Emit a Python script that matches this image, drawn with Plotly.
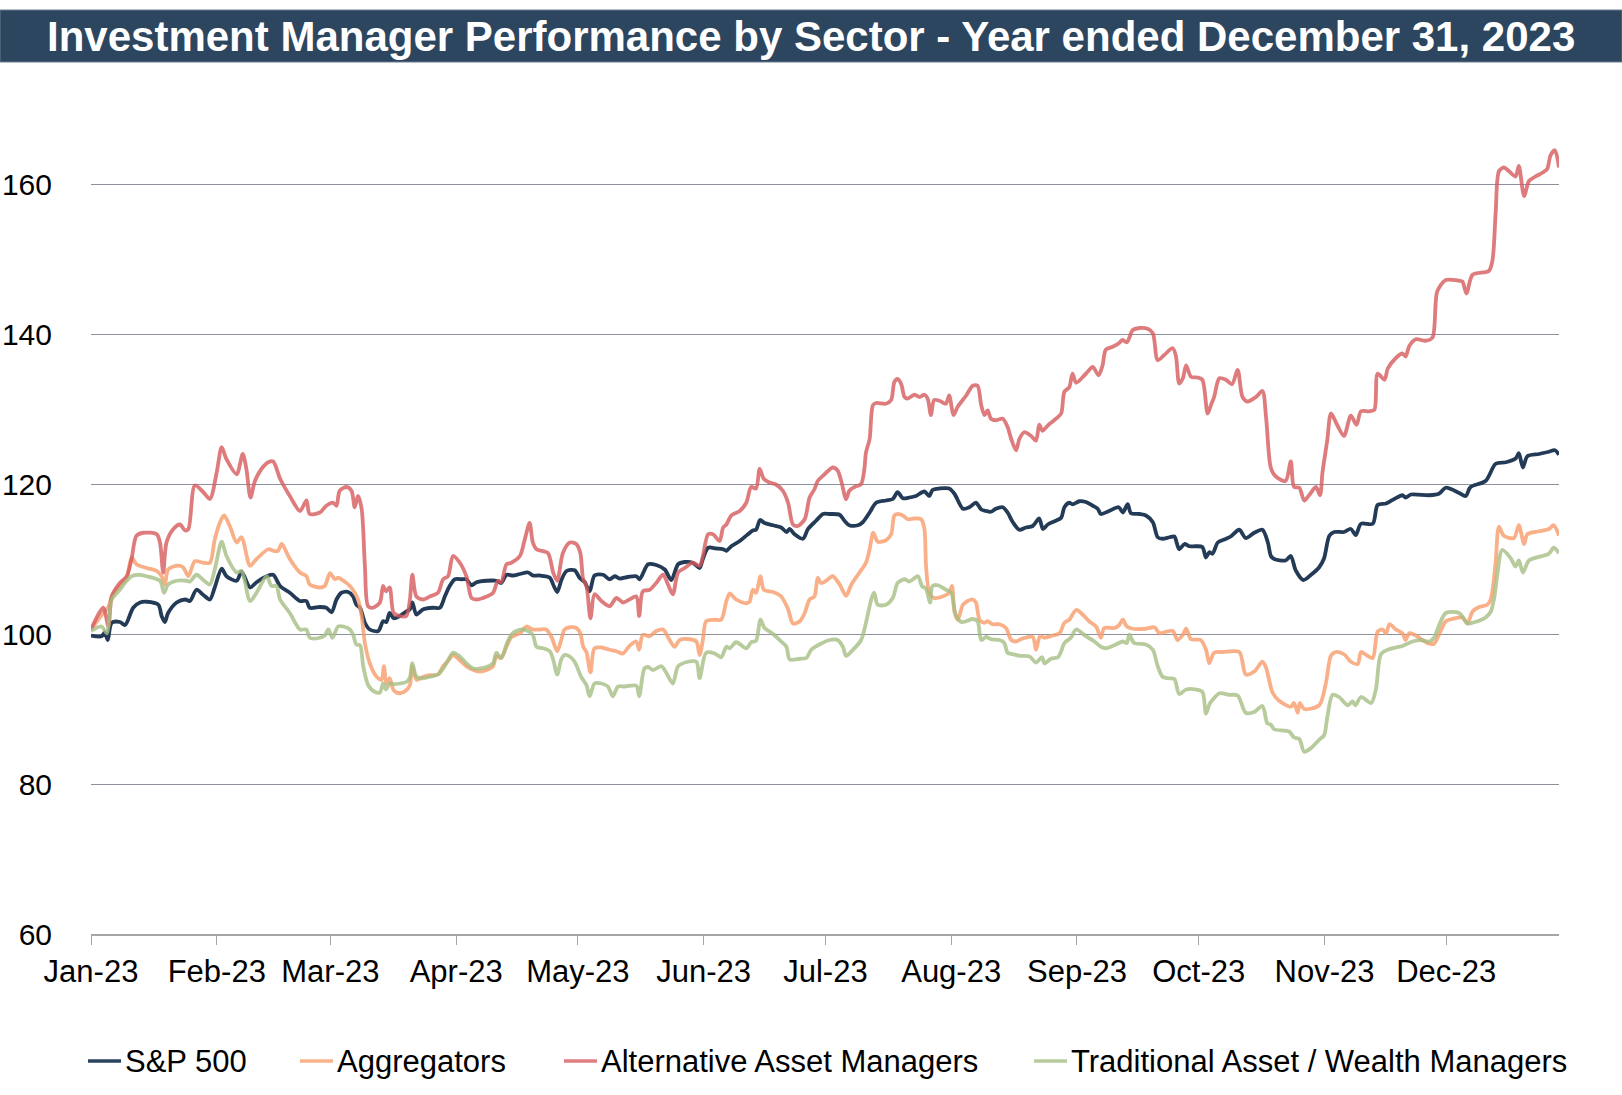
import pandas as pd
import plotly.graph_objects as go

# ---------------- data (days after 2023-01-01, index values) ----------------
sp_days = [0, 2.6, 3.4, 4.1, 5.1, 7.1, 8.4, 10.4, 12.1, 13.7, 16.6, 17.4, 18.2, 19.0, 21.1, 23.2, 24.4, 26.0, 27.7, 29.3,
           30.5, 32.2, 33.4, 35.9, 37.1, 39.2, 40.8, 43.3, 44.9, 46.6, 49.0, 51.5, 53.1, 53.9, 56.4, 58.0, 59.3, 60.5, 61.7, 63.4,
           64.6, 65.4, 66.3, 67.5, 68.7, 70.8, 72.0, 72.8, 73.6, 74.6, 76.1, 77.7, 78.6, 79.2, 80.2, 81.9, 84.3, 86.0, 87.2, 88.4,
           89.7, 91.3, 92.5, 93.8, 95.0, 97.5, 99.9, 101.1, 102.4, 104.0, 105.7, 107.7, 108.9, 110.6, 113.1, 113.9, 114.9, 116.0, 117.2, 119.2,
           120.4, 121.7, 122.9, 124.1, 126.2, 127.8, 129.1, 130.3, 132.3, 134.4, 135.2, 137.3, 139.3, 141.4, 143.0, 144.7, 146.3, 148.3, 150.0, 150.8,
           152.1, 154.1, 155.8, 156.6, 157.8, 159.9, 161.9, 163.1, 163.9, 164.9, 166.0, 168.1, 170.1, 171.4, 172.2, 173.4, 175.5, 176.7, 178.7, 180.4,
           182.0, 184.5, 185.7, 186.9, 189.0, 190.2, 191.9, 193.5, 195.9, 197.6, 198.8, 200.1, 201.7, 203.3, 205.4, 206.6, 207.4, 209.1, 211.5, 212.8,
           214.9, 216.5, 218.1, 219.4, 220.6, 221.8, 223.0, 224.7, 225.9, 227.2, 228.8, 230.4, 232.1, 233.7, 234.6, 235.8, 237.8, 239.1, 239.9, 241.1,
           241.9, 243.6, 245.2, 246.9, 248.1, 248.9, 250.9, 253.3, 254.3, 255.5, 256.3, 258.4, 260.0, 261.7, 262.9, 264.1, 265.8, 267.0, 268.2, 269.5,
           270.7, 272.3, 273.9, 274.8, 275.6, 276.4, 277.7, 279.3, 280.9, 283.0, 284.6, 286.7, 288.7, 290.0, 290.8, 291.6, 294.4, 295.7, 296.9, 298.8,
           300.7, 302.7, 303.9, 305.2, 306.4, 308.8, 310.5, 311.7, 313.0, 315.9, 317.1, 319.2, 321.2, 323.2, 324.0, 325.3, 329.8, 332.2, 333.9, 337.2,
           338.8, 340.0, 343.7, 346.2, 348.7, 351.1, 351.9, 352.9, 354.0, 356.9, 359.3, 360.8, 361.8]
sp_vals = [99.8, 99.7, 100.2, 99.2, 101.5, 101.6, 101.2, 103.5, 104.2, 104.3, 103.9, 102.4, 101.6, 102.8, 104.2, 104.6, 104.4, 105.9, 105.2, 104.6,
           106.2, 108.7, 107.7, 107.1, 108.3, 106.2, 106.9, 107.7, 107.9, 106.4, 105.5, 104.4, 104.4, 103.5, 103.6, 103.5, 102.9, 104.6, 105.5, 105.6,
           105.0, 103.9, 103.5, 101.5, 100.6, 100.4, 101.7, 101.6, 102.8, 102.1, 102.4, 103.0, 103.3, 104.2, 102.6, 103.3, 103.5, 103.5, 105.0, 106.4,
           107.3, 107.3, 107.3, 106.5, 106.9, 107.1, 107.1, 106.8, 107.9, 107.8, 108.0, 108.2, 107.8, 107.8, 107.5, 106.6, 105.6, 107.3, 108.4, 108.5,
           107.5, 106.9, 105.7, 107.8, 107.9, 107.3, 107.7, 107.4, 107.6, 107.7, 107.3, 109.3, 109.2, 108.6, 107.2, 109.3, 109.6, 109.5, 108.8, 110.0,
           111.5, 111.4, 111.3, 111.1, 111.7, 112.4, 113.3, 113.8, 113.9, 115.2, 114.8, 114.5, 114.2, 113.6, 114.0, 113.3, 112.7, 114.0, 115.1, 116.0,
           116.0, 115.9, 115.1, 114.5, 114.5, 114.9, 116.2, 117.5, 117.8, 118.0, 118.9, 118.1, 118.2, 118.4, 119.0, 118.4, 119.2, 119.4, 119.4, 118.7,
           116.7, 116.9, 117.5, 116.6, 116.4, 116.3, 116.7, 116.9, 116.2, 114.9, 113.9, 114.2, 114.4, 115.4, 114.0, 114.6, 115.1, 115.5, 116.9, 117.5,
           117.3, 117.7, 117.6, 117.1, 116.7, 116.0, 116.4, 116.9, 116.2, 117.3, 116.1, 116.0, 115.8, 114.9, 112.9, 112.7, 112.9, 113.0, 111.3, 112.0,
           111.7, 111.7, 111.6, 110.2, 110.9, 110.7, 112.2, 112.6, 113.0, 113.9, 112.8, 113.5, 113.9, 112.3, 110.4, 110.0, 109.8, 110.4, 108.5, 107.2,
           107.9, 108.9, 110.1, 113.1, 113.6, 113.6, 114.0, 113.2, 114.7, 114.7, 117.2, 117.4, 118.0, 118.5, 118.2, 118.6, 118.5, 118.7, 119.5, 118.8,
           118.4, 119.6, 120.4, 122.7, 122.9, 123.4, 124.1, 122.2, 123.7, 124.0, 124.3, 124.5, 123.9]

agg_days = [0, 3.0, 4.3, 5.1, 7.1, 8.8, 10.0, 11.2, 13.7, 16.2, 17.4, 18.2, 19.0, 21.1, 22.7, 24.0, 25.6, 27.7, 29.3, 30.5,
            31.8, 32.8, 34.2, 35.9, 37.1, 39.2, 40.8, 43.7, 44.9, 46.1, 47.0, 49.0, 51.5, 53.1, 53.9, 56.4, 57.6, 58.9, 60.1, 60.9,
            62.2, 63.8, 65.0, 65.8, 66.7, 67.5, 68.7, 70.4, 71.6, 72.2, 72.8, 73.6, 74.6, 76.1, 77.7, 78.6, 79.2, 80.2, 81.9, 83.5,
            85.5, 86.8, 88.0, 89.2, 90.9, 92.5, 94.2, 95.8, 97.5, 99.1, 99.9, 101.1, 102.4, 103.6, 105.7, 107.3, 108.9, 110.6, 112.2, 113.5,
            114.9, 115.9, 116.7, 118.0, 119.6, 120.6, 121.3, 122.1, 123.1, 124.1, 125.8, 127.8, 129.5, 131.1, 132.7, 134.4, 135.1, 136.0, 137.7, 139.3,
            141.0, 142.6, 143.8, 145.1, 147.5, 149.2, 150.0, 150.8, 151.6, 153.7, 155.3, 156.6, 157.4, 159.0, 161.5, 162.3, 163.1, 163.9, 165.0, 165.8,
            168.1, 170.1, 171.8, 173.0, 174.7, 175.9, 177.1, 178.3, 179.1, 179.9, 181.2, 182.8, 184.5, 186.1, 187.4, 189.4, 191.0, 191.9, 192.8, 193.9,
            195.9, 197.2, 198.0, 198.8, 200.1, 201.3, 202.9, 204.6, 205.4, 205.8, 206.6, 207.8, 209.9, 211.5, 212.2, 212.8, 213.6, 214.9, 216.1, 217.3,
            218.1, 219.0, 220.2, 221.0, 222.2, 223.9, 225.5, 226.8, 228.0, 229.6, 232.1, 232.9, 233.9, 235.0, 237.0, 238.7, 239.9, 241.1, 242.8, 244.4,
            246.0, 247.7, 248.9, 249.7, 252.2, 253.4, 254.3, 255.3, 256.7, 260.0, 262.1, 263.3, 264.9, 266.6, 267.8, 269.1, 269.9, 271.1, 273.5, 274.8,
            275.6, 276.8, 278.9, 283.0, 284.6, 286.7, 288.7, 289.6, 291.2, 292.8, 295.7, 296.5, 297.4, 297.9, 299.0, 302.7, 304.3, 305.6, 306.8, 308.8,
            310.5, 312.2, 313.0, 314.6, 315.9, 317.1, 318.3, 319.2, 320.0, 321.6, 323.2, 324.0, 324.9, 326.5, 328.1, 329.8, 331.0, 332.2, 333.9, 335.5,
            338.0, 339.2, 340.5, 342.1, 344.1, 344.9, 345.4, 346.2, 347.0, 348.2, 350.7, 351.9, 353.2, 354.0, 356.9, 359.3, 360.5, 361.8]
agg_vals = [100.6, 102.8, 103.6, 105.0, 106.4, 107.5, 110.2, 109.3, 108.8, 108.4, 107.7, 106.6, 108.6, 109.1, 108.9, 107.7, 109.7, 109.5, 109.5, 112.6,
            114.9, 115.8, 114.4, 112.2, 112.9, 109.1, 110.0, 111.3, 111.1, 111.1, 112.0, 110.0, 108.2, 107.7, 106.6, 106.2, 106.4, 108.1, 107.3, 107.5,
            107.1, 106.4, 105.5, 104.6, 102.4, 98.8, 96.1, 94.3, 93.9, 95.7, 93.4, 94.1, 92.5, 92.1, 92.5, 93.2, 95.7, 93.9, 94.3, 94.5,
            94.6, 95.7, 96.4, 97.2, 96.5, 95.7, 95.2, 95.0, 95.2, 95.7, 97.0, 96.8, 98.3, 99.6, 100.1, 101.0, 100.6, 100.6, 100.6, 99.6,
            97.7, 99.2, 100.6, 100.9, 100.8, 100.1, 98.3, 97.6, 94.9, 98.1, 98.2, 97.9, 97.7, 97.4, 98.4, 99.0, 97.9, 99.9, 99.7, 100.4,
            100.6, 99.2, 98.3, 99.2, 99.3, 99.0, 97.2, 99.2, 101.7, 101.9, 101.9, 104.4, 105.4, 104.6, 104.1, 104.3, 105.9, 105.5, 107.7, 105.9,
            105.6, 105.0, 103.3, 101.4, 101.7, 102.8, 104.6, 105.0, 107.5, 106.8, 107.1, 107.7, 106.6, 105.1, 106.6, 108.2, 109.5, 111.3, 113.5, 112.3,
            112.5, 113.3, 115.8, 116.0, 115.8, 115.3, 115.4, 115.3, 114.0, 109.1, 105.5, 104.8, 105.0, 105.5, 106.4, 103.0, 101.9, 103.9, 104.4, 104.6,
            104.2, 101.9, 101.5, 101.7, 101.3, 101.3, 100.8, 99.2, 99.0, 99.4, 99.6, 97.9, 99.7, 99.5, 99.8, 100.1, 101.5, 101.9, 103.2, 102.6,
            101.7, 101.0, 99.5, 100.8, 100.8, 101.2, 101.9, 101.0, 100.7, 100.7, 100.9, 100.1, 100.3, 100.4, 99.2, 99.9, 100.7, 99.3, 99.2, 97.9,
            96.1, 97.5, 97.6, 97.6, 94.6, 95.0, 96.3, 95.5, 92.2, 91.1, 90.3, 90.8, 89.5, 90.8, 90.0, 90.5, 93.3, 97.1, 97.6, 97.3,
            96.3, 96.0, 97.6, 97.1, 96.8, 100.3, 100.6, 100.1, 101.3, 100.6, 100.1, 99.2, 100.1, 99.8, 99.2, 98.7, 98.7, 99.9, 101.7, 102.0,
            102.2, 101.4, 103.0, 103.6, 103.9, 104.5, 105.8, 109.6, 114.3, 113.1, 112.8, 114.5, 112.0, 113.3, 113.7, 114.0, 114.5, 113.1]

alt_days = [0, 3.0, 4.3, 5.1, 7.1, 8.8, 10.0, 11.2, 12.9, 16.2, 17.0, 17.8, 18.6, 20.3, 21.9, 23.2, 24.0, 25.6, 27.7, 29.3,
            31.0, 32.2, 33.4, 35.9, 37.4, 38.3, 39.3, 40.4, 42.0, 43.7, 44.9, 46.6, 49.0, 51.5, 53.1, 53.9, 56.4, 58.0, 59.7, 60.5,
            61.3, 63.0, 64.2, 65.0, 65.8, 66.7, 67.5, 68.3, 69.5, 71.2, 72.0, 72.7, 73.6, 74.6, 76.1, 77.7, 78.6, 79.2, 80.2, 81.9,
            83.5, 85.5, 86.8, 88.0, 89.2, 90.9, 92.5, 93.8, 95.0, 97.5, 99.1, 100.3, 101.1, 102.4, 103.6, 105.7, 106.9, 108.1, 108.9, 109.8,
            112.6, 113.9, 114.9, 116.3, 118.0, 119.6, 120.6, 121.3, 122.1, 123.1, 124.1, 125.8, 127.8, 129.5, 131.1, 132.7, 134.4, 135.1, 136.0, 137.7,
            139.3, 141.0, 142.2, 143.4, 144.7, 146.3, 148.3, 150.0, 150.8, 152.1, 153.3, 154.9, 155.8, 156.6, 157.8, 159.9, 161.5, 162.7, 163.9, 164.8,
            165.8, 167.2, 168.9, 170.5, 171.8, 173.0, 174.2, 175.9, 177.1, 178.3, 179.1, 180.8, 182.8, 184.0, 184.9, 186.1, 186.9, 188.2, 189.8, 190.6,
            191.0, 191.9, 192.7, 193.5, 195.9, 197.2, 198.0, 198.8, 199.7, 200.5, 201.3, 202.9, 204.2, 205.4, 206.2, 207.0, 207.8, 209.1, 210.7, 211.5,
            212.6, 213.6, 215.7, 217.3, 218.5, 219.4, 220.2, 221.0, 221.8, 223.0, 224.7, 225.9, 226.8, 228.0, 228.8, 230.0, 231.7, 232.9, 233.7, 234.5,
            235.3, 236.2, 237.8, 239.1, 239.9, 241.1, 241.9, 242.8, 245.2, 246.9, 248.3, 249.3, 250.1, 251.8, 253.4, 254.1, 255.3, 255.9, 256.7, 258.4,
            260.4, 261.7, 262.9, 264.5, 266.6, 267.4, 268.2, 269.1, 269.9, 271.1, 272.7, 273.9, 275.2, 276.0, 276.8, 278.1, 279.7, 281.2, 282.6, 283.8,
            285.0, 287.1, 288.7, 289.6, 290.8, 292.0, 294.4, 295.7, 296.5, 297.8, 299.0, 300.2, 301.9, 302.9, 303.5, 304.7, 305.6, 307.2, 308.8, 310.5,
            311.9, 313.0, 315.1, 316.3, 317.1, 318.8, 319.6, 321.6, 323.2, 324.0, 324.9, 326.5, 328.9, 330.6, 331.8, 333.9, 337.2, 338.0, 339.0, 340.5,
            344.5, 345.4, 346.2, 347.0, 348.2, 349.5, 351.1, 351.9, 353.2, 354.4, 356.0, 357.7, 358.9, 359.7, 360.8, 361.8]
alt_vals = [100.6, 103.5, 101.0, 105.0, 106.8, 107.7, 110.0, 113.1, 113.5, 113.3, 112.2, 108.2, 112.2, 114.0, 114.6, 113.8, 114.0, 119.8, 118.9, 118.0,
            121.6, 124.9, 123.3, 121.3, 124.0, 122.0, 118.2, 120.4, 122.0, 122.9, 123.0, 120.7, 118.4, 116.4, 117.8, 116.0, 116.2, 117.1, 117.5, 117.1,
            119.1, 119.6, 119.1, 116.9, 118.4, 116.7, 109.1, 103.7, 103.5, 104.2, 106.4, 105.7, 106.2, 102.8, 102.4, 102.4, 104.6, 107.9, 105.0, 104.6,
            105.0, 105.5, 107.3, 107.7, 110.4, 109.5, 107.7, 104.8, 104.6, 105.0, 105.5, 107.1, 106.9, 109.3, 109.5, 110.4, 112.6, 114.8, 112.2, 111.3,
            110.8, 108.2, 107.1, 110.8, 112.2, 112.0, 110.8, 107.3, 106.4, 102.1, 105.3, 104.4, 103.7, 104.8, 104.2, 104.6, 105.0, 102.4, 105.7, 105.9,
            106.8, 107.9, 106.6, 105.3, 108.2, 108.8, 109.5, 109.1, 110.4, 113.3, 113.3, 112.4, 114.2, 114.6, 115.8, 116.4, 117.5, 119.6, 119.4, 122.0,
            120.7, 120.2, 119.9, 119.1, 117.5, 114.6, 114.4, 115.3, 118.2, 119.3, 120.4, 121.3, 122.2, 121.8, 120.4, 118.0, 119.1, 119.6, 120.0, 122.0,
            124.2, 126.0, 130.5, 130.8, 130.7, 131.2, 133.6, 134.0, 133.3, 131.6, 131.4, 131.9, 131.6, 131.9, 131.4, 129.2, 131.2, 131.1, 130.7, 131.8,
            129.2, 130.3, 131.8, 133.1, 133.1, 130.5, 129.2, 129.8, 128.7, 128.5, 128.7, 127.6, 126.0, 124.5, 126.0, 126.9, 126.4, 125.8, 127.9, 127.1,
            127.5, 128.0, 128.7, 129.4, 132.3, 132.9, 134.7, 133.5, 134.7, 135.6, 134.5, 135.8, 137.9, 138.3, 138.8, 139.2, 138.9, 139.5, 140.5, 140.8,
            140.7, 140.1, 136.5, 137.2, 138.1, 137.0, 133.4, 134.1, 135.8, 134.3, 134.2, 133.9, 129.4, 130.5, 131.6, 134.1, 133.9, 133.3, 135.2, 131.6,
            131.0, 131.6, 132.4, 128.9, 122.1, 121.0, 120.4, 123.0, 119.6, 119.5, 117.8, 118.5, 119.6, 118.5, 121.5, 125.9, 129.4, 127.8, 126.4, 129.1,
            127.9, 129.7, 129.7, 129.9, 134.7, 133.9, 135.4, 136.8, 137.4, 137.0, 138.4, 139.3, 139.1, 139.5, 145.7, 147.2, 147.1, 147.0, 145.4, 147.9,
            148.4, 149.8, 156.3, 161.7, 162.2, 161.7, 161.0, 162.4, 158.4, 160.4, 161.0, 161.5, 162.0, 163.8, 164.5, 162.2]

trad_days = [0, 2.6, 3.9, 5.1, 7.1, 8.8, 10.0, 11.7, 13.7, 17.0, 18.0, 19.0, 21.1, 23.6, 24.4, 26.0, 27.7, 29.3, 30.5, 32.2,
             33.4, 35.9, 37.1, 39.2, 40.8, 43.3, 44.5, 45.7, 46.6, 49.0, 51.5, 53.1, 53.9, 56.4, 57.6, 58.5, 59.5, 60.9, 62.2, 63.8,
             64.6, 65.4, 66.3, 67.1, 68.3, 69.9, 71.2, 72.0, 72.7, 73.6, 74.6, 76.1, 77.7, 78.6, 79.2, 80.2, 81.9, 83.5, 85.5, 86.8,
             88.0, 89.2, 90.9, 92.5, 94.2, 95.8, 97.5, 99.1, 99.9, 101.1, 102.4, 103.6, 104.8, 106.5, 107.7, 108.9, 109.8, 111.4, 113.1, 113.9,
             114.9, 115.9, 116.7, 118.0, 119.2, 120.8, 122.1, 122.9, 124.1, 125.8, 127.4, 128.6, 129.9, 131.5, 134.4, 135.1, 136.4, 137.3, 138.5, 140.6,
             141.8, 143.4, 144.7, 147.1, 149.2, 150.0, 151.6, 153.7, 155.3, 156.6, 157.4, 159.0, 161.5, 162.7, 163.9, 165.0, 166.0, 168.1, 170.1, 171.4,
             172.2, 174.7, 176.3, 177.5, 179.5, 182.0, 184.0, 185.3, 186.1, 187.8, 189.8, 191.0, 192.3, 193.0, 193.9, 195.9, 197.6, 198.8, 200.5, 201.7,
             203.8, 204.8, 205.8, 206.8, 207.4, 208.7, 210.7, 212.0, 213.1, 214.5, 215.7, 217.3, 218.5, 219.4, 220.6, 221.8, 223.9, 225.1, 225.9, 227.2,
             228.8, 231.3, 232.9, 234.4, 235.0, 236.6, 238.3, 239.1, 239.9, 241.5, 242.8, 245.2, 247.3, 248.9, 250.1, 252.2, 254.3, 255.3, 255.9, 257.1,
             260.0, 261.7, 262.9, 264.1, 265.4, 267.0, 268.2, 269.9, 272.3, 273.9, 274.8, 275.7, 276.4, 278.1, 280.5, 282.6, 284.6, 286.7, 288.7, 289.9,
             290.8, 291.6, 295.3, 296.5, 297.8, 299.0, 300.7, 302.7, 303.9, 304.7, 306.0, 307.6, 309.7, 310.9, 311.6, 313.0, 315.5, 316.7, 317.9, 319.6,
             321.6, 323.2, 325.7, 327.7, 329.8, 331.0, 332.2, 333.9, 337.2, 338.4, 339.2, 340.5, 343.7, 345.0, 345.8, 346.6, 347.8, 349.9, 351.1, 351.9,
             352.9, 354.4, 357.7, 359.3, 360.5, 361.8]
trad_vals = [100.4, 101.0, 100.1, 104.6, 105.9, 107.1, 107.7, 107.9, 107.7, 107.1, 105.5, 106.6, 107.1, 107.1, 107.0, 107.9, 107.2, 106.6, 108.6, 112.3,
             110.4, 108.2, 108.4, 104.4, 105.5, 107.7, 106.4, 106.4, 104.6, 102.8, 100.6, 100.6, 99.5, 99.5, 99.8, 100.6, 99.5, 101.0, 101.0, 100.6,
             99.9, 98.6, 98.5, 95.7, 93.2, 92.3, 92.2, 93.4, 92.6, 93.4, 93.3, 93.4, 93.6, 94.2, 96.1, 94.3, 94.1, 94.3, 94.6, 95.4,
             96.5, 97.5, 97.0, 96.1, 95.4, 95.4, 95.6, 96.1, 97.5, 96.8, 98.6, 99.9, 100.4, 100.6, 100.4, 99.9, 98.3, 98.1, 97.7, 96.6,
             94.6, 96.6, 97.2, 97.0, 96.3, 94.3, 93.2, 91.7, 93.4, 93.4, 93.0, 91.7, 93.0, 93.0, 93.1, 91.7, 95.4, 95.6, 95.2, 95.7,
             94.8, 93.4, 95.7, 96.3, 96.3, 94.1, 97.5, 97.4, 96.9, 98.3, 98.1, 98.9, 98.1, 98.9, 99.1, 101.9, 100.8, 100.0, 99.0, 98.3,
             96.6, 96.7, 96.8, 97.9, 98.6, 99.2, 99.2, 98.3, 97.1, 97.9, 99.2, 101.5, 104.6, 105.5, 103.9, 103.9, 104.8, 106.8, 107.3, 107.0,
             107.7, 106.4, 106.0, 104.2, 106.4, 106.5, 105.9, 105.5, 102.6, 101.6, 101.7, 102.0, 101.7, 99.2, 99.6, 99.3, 99.2, 98.8, 97.5, 97.3,
             97.1, 97.0, 96.2, 96.9, 96.1, 96.7, 96.9, 97.7, 98.8, 99.5, 100.6, 99.7, 99.0, 98.3, 98.1, 98.5, 99.0, 98.8, 99.9, 98.8,
             98.6, 97.9, 95.7, 94.3, 94.1, 94.0, 92.0, 92.6, 92.6, 92.3, 89.4, 90.7, 91.2, 92.1, 91.9, 91.8, 89.5, 89.6, 90.4, 88.1,
             87.9, 87.3, 87.0, 86.2, 86.0, 84.3, 84.8, 85.9, 86.5, 88.9, 91.9, 91.6, 90.5, 91.0, 90.5, 91.6, 90.8, 92.7, 97.3, 97.9,
             98.2, 98.4, 99.0, 99.2, 99.0, 99.5, 101.1, 102.8, 102.8, 102.0, 101.4, 101.5, 102.2, 103.0, 104.7, 107.9, 111.2, 110.1, 109.0, 109.8,
             108.2, 109.8, 110.4, 110.7, 111.5, 110.8]

series_names = ["S&P 500", "Aggregators", "Alternative Asset Managers", "Traditional Asset / Wealth Managers"]
series_colors = ["#233B56", "rgba(247,156,106,0.80)", "rgba(214,90,92,0.80)", "rgba(165,190,131,0.80)"]
legend_colors = ["#2A4460", "#F9B38A", "#DE7E80", "#B8CB9C"]

month_starts = ["2023-01-01", "2023-02-01", "2023-03-01", "2023-04-01", "2023-05-01", "2023-06-01",
                "2023-07-01", "2023-08-01", "2023-09-01", "2023-10-01", "2023-11-01", "2023-12-01"]
month_labels = ["Jan-23", "Feb-23", "Mar-23", "Apr-23", "May-23", "Jun-23",
                "Jul-23", "Aug-23", "Sep-23", "Oct-23", "Nov-23", "Dec-23"]
y_ticks = [60, 80, 100, 120, 140, 160]

title_text = "Investment Manager Performance by Sector - Year ended December 31, 2023"

# ---------------- figure ----------------
base = pd.Timestamp("2023-01-01")


def to_dates(days):
    return base + pd.to_timedelta(days, unit="D")


fig = go.Figure()
for name, color, d, v in zip(series_names, series_colors,
                             [sp_days, agg_days, alt_days, trad_days],
                             [sp_vals, agg_vals, alt_vals, trad_vals]):
    fig.add_trace(go.Scatter(x=to_dates(d), y=v, mode="lines", name=name, showlegend=False,
                             line=dict(color=color, width=3.8, shape="spline", smoothing=0.8)))

W, H = 1622, 1095
L, R, T, B = 91, 63, 109, 161
pw, ph = W - L - R, H - T - B


def px_x(x):
    return (x - L) / pw


def px_y(y):
    return (H - B - y) / ph


FONT = "Liberation Sans, Arial, sans-serif"

shapes = [dict(type="rect", xref="paper", yref="paper", x0=px_x(0), x1=px_x(W),
               y0=px_y(62), y1=px_y(10), fillcolor="#2D4660",
               line=dict(color="#6A7B8E", width=1), layer="above")]
annotations = [dict(text="<b>" + title_text + "</b>", xref="paper", yref="paper",
                    x=px_x(W / 2), y=px_y(36), xanchor="center", yanchor="middle",
                    showarrow=False, font=dict(size=42, family=FONT, color="white"))]

# manual legend (line swatch + label)
legend_line_x = [88, 300, 564, 1034]
legend_y = 1061
for name, color, lx in zip(series_names, legend_colors, legend_line_x):
    shapes.append(dict(type="line", xref="paper", yref="paper",
                       x0=px_x(lx), x1=px_x(lx + 33), y0=px_y(legend_y), y1=px_y(legend_y),
                       line=dict(color=color, width=3.5)))
    annotations.append(dict(text=name, xref="paper", yref="paper", x=px_x(lx + 35), y=px_y(legend_y),
                            xanchor="left", yanchor="middle", showarrow=False,
                            font=dict(size=31, family=FONT, color="black")))

fig.update_layout(
    width=W, height=H,
    margin=dict(l=L, r=R, t=T, b=B, pad=0),
    paper_bgcolor="white", plot_bgcolor="white",
    font=dict(family=FONT, size=30, color="black"),
    showlegend=False,
    xaxis=dict(type="date", range=[to_dates([0])[0], to_dates([361.8])[0]],
               tickvals=month_starts, ticktext=month_labels, automargin=False,
               ticks="outside", ticklen=9, tickwidth=1, tickcolor="#A6A6A6",
               showline=True, linecolor="#A6A6A6", linewidth=1.5,
               showgrid=False, zeroline=False, ticklabelstandoff=0,
               tickfont=dict(size=31, family=FONT, color="black")),
    yaxis=dict(range=[60, 170], tickvals=y_ticks, showgrid=True, gridcolor="#8E929F", gridwidth=1,
               zeroline=False, showline=False, ticks="", ticklabelstandoff=38, automargin=False,
               tickfont=dict(size=30, family=FONT, color="black")),
    shapes=shapes,
    annotations=annotations,
)

fig.write_html("out.html", config={"displayModeBar": False},
               post_script="document.body.style.margin='0';")
